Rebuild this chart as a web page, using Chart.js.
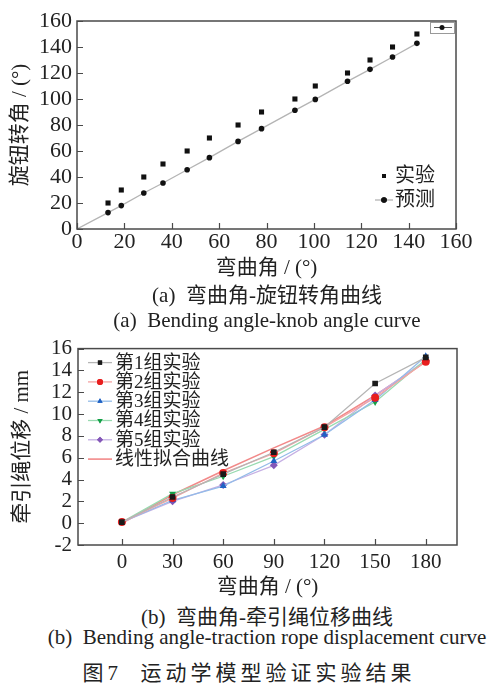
<!DOCTYPE html>
<html>
<head>
<meta charset="utf-8">
<script src="https://cdn.jsdelivr.net/npm/chart.js@4.4.1/dist/chart.umd.min.js"></script>
<style>
  body { margin: 0; background: #fff; }
  #page { position: relative; width: 491px; height: 683px; overflow: hidden; background: #fff; }
  canvas { position: absolute; left: 0; }
  .cap { position: absolute; left: 0; width: 534px; text-align: center; white-space: pre;
         font-family: 'Liberation Serif', 'Noto Sans CJK SC', serif; font-size: 21px; line-height: 24px; color: #222; }
</style>
</head>
<body>
<div id="page">
  <canvas id="knobChart" width="491" height="285" style="top:0"></canvas>
  <canvas id="ropeChart" width="491" height="275" style="top:330px"></canvas>
  <div class="cap" style="top:283px">(a)  弯曲角-旋钮转角曲线</div>
  <div class="cap" style="top:308px">(a)  Bending angle-knob angle curve</div>
  <div class="cap" style="top:605px">(b)  弯曲角-牵引绳位移曲线</div>
  <div class="cap" style="top:625px">(b)  Bending angle-traction rope displacement curve</div>
  <div class="cap" style="top:661px; width:498px; letter-spacing:4px">图7  运动学模型验证实验结果</div>
</div>
<script>
// 图(a) 弯曲角-旋钮转角
const bendAngle = [13.1, 18.7, 28.2, 36.3, 46.5, 55.9, 68, 77.9, 92, 100.6, 114.2, 123.7, 133.2, 143.5];
const knobExp = [20, 30, 40, 50, 60, 70, 80, 90, 100, 110, 120, 130, 140, 150];
const knobPred = [12.6, 18, 27.7, 35.4, 45.6, 54.9, 67.4, 77.2, 91.3, 99.7, 113.6, 122.8, 132.3, 142.8];
const knobTicks = [0, 20, 40, 60, 80, 100, 120, 140, 160];

// 图(b) 弯曲角-牵引绳位移
const angleCats = [0, 30, 60, 90, 120, 150, 180];
const group1 = [0.1, 2.4, 4.5, 6.5, 8.8, 12.8, 15.2];
const group2 = [0.1, 2.3, 4.6, 6.4, 8.8, 11.5, 14.8];
const group3 = [0.1, 2.1, 3.4, 5.7, 8.1, 11.3, 15.3];
const group4 = [0.1, 2.7, 4.3, 6.1, 8.6, 11.1, 15.0];
const group5 = [0.1, 2.0, 3.5, 5.3, 8.1, 11.7, 14.9];
const fitLine = [0.0, 2.6, 4.8, 6.9, 8.9, 11.7, 14.8];
const ropeTicks = [-2, 0, 2, 4, 6, 8, 10, 12, 14, 16];

const fontFam = "'Liberation Serif', 'Noto Sans CJK SC', serif";
const textColor = '#222';

// 边框 + 向内刻度
const frame = {
  id: 'frame',
  afterDatasetsDraw(chart) {
    const { ctx, chartArea: a, scales } = chart;
    ctx.save();
    ctx.strokeStyle = '#4a4a4a';
    ctx.lineWidth = 1.5;
    ctx.strokeRect(a.left, a.top, a.width, a.height);
    ctx.lineWidth = 1.2;
    ctx.beginPath();
    scales.x.ticks.forEach(t => {
      const px = Math.round(scales.x.getPixelForValue(t.value)) + 0.5;
      ctx.moveTo(px, a.bottom); ctx.lineTo(px, a.bottom - 6);
    });
    scales.y.ticks.forEach(t => {
      const py = Math.round(scales.y.getPixelForValue(t.value)) + 0.5;
      ctx.moveTo(a.left, py); ctx.lineTo(a.left + 6, py);
    });
    ctx.stroke();
    ctx.restore();
  }
};

// 自绘图例
const customLegend = {
  id: 'customLegend',
  afterDraw(chart, args, opts) {
    const { ctx, chartArea: a } = chart;
    const ds = chart.data.datasets;
    ctx.save();
    ctx.font = opts.size + 'px ' + fontFam;
    ctx.textBaseline = 'middle';
    const x0 = opts.right ? a.right - opts.dx : a.left + opts.dx;
    const y0 = opts.bottom ? a.bottom - opts.dy : a.top + opts.dy;
    ds.forEach((d, i) => {
      const y = y0 + i * opts.step;
      if (d.showLine !== false) {
        ctx.strokeStyle = d.borderColor;
        ctx.lineWidth = d.borderWidth;
        ctx.beginPath();
        ctx.moveTo(x0 - opts.half, y); ctx.lineTo(x0 + opts.half, y);
        ctx.stroke();
      }
      if (d.pointStyle && d.legendMarker !== false) {
        ctx.fillStyle = d.pointBackgroundColor;
        Chart.helpers.drawPoint(ctx, {
          pointStyle: d.pointStyle, radius: opts.radius, rotation: d.rotation || 0, borderWidth: 0
        }, x0, y);
        ctx.fill();
      }
      ctx.fillStyle = textColor;
      ctx.fillText(d.label, x0 + opts.textGap, y + 1);
    });
    if (opts.stub) {
      // 右上角残留的小图例框
      ctx.strokeStyle = '#999';
      ctx.lineWidth = 1;
      ctx.strokeRect(a.right - 25.5, a.top + 1.5, 24, 11);
      ctx.strokeStyle = '#555';
      ctx.beginPath();
      ctx.moveTo(a.right - 22, a.top + 6.5); ctx.lineTo(a.right - 4, a.top + 6.5);
      ctx.stroke();
      ctx.fillStyle = '#111';
      ctx.beginPath();
      ctx.arc(a.right - 14, a.top + 6.5, 2.5, 0, Math.PI * 2);
      ctx.fill();
    }
    ctx.restore();
  }
};

function axisBase(title, tickFont) {
  return {
    type: 'linear',
    grid: { display: false, drawTicks: false },
    border: { display: false },
    ticks: { color: textColor, autoSkip: false, maxRotation: 0, font: { family: fontFam, size: tickFont } },
    title: { display: true, text: title, color: textColor, font: { family: fontFam, size: 21 } }
  };
}

// 图(a)
const knobX = axisBase('弯曲角 / (°)', 22);
knobX.min = 0; knobX.max = 160;
knobX.ticks.padding = 0;
knobX.afterBuildTicks = s => { s.ticks = knobTicks.map(v => ({ value: v })); };
knobX.afterFit = s => { s.height = 56; };
knobX.title.padding = { top: 0, bottom: 4 };
const knobY = axisBase('旋钮转角 / (°)', 22);
knobY.min = 0; knobY.max = 160;
knobY.ticks.padding = 5;
knobY.afterBuildTicks = s => { s.ticks = knobTicks.map(v => ({ value: v })); };
knobY.afterFit = s => { s.width = 77; };
knobY.title.padding = { top: 8, bottom: 0 };

new Chart(document.getElementById('knobChart'), {
  type: 'scatter',
  data: {
    datasets: [{
      label: '实验',
      data: bendAngle.map((x, i) => ({ x: x, y: knobExp[i] })),
      showLine: false,
      pointStyle: 'rect',
      pointRadius: 3.6,
      pointBackgroundColor: '#111',
      pointBorderWidth: 0,
      borderColor: '#111'
    }, {
      label: '预测',
      data: [{ x: 0, y: 0 }].concat(bendAngle.map((x, i) => ({ x: x, y: knobPred[i] }))),
      showLine: true,
      borderColor: '#b4b4b4',
      borderWidth: 1.3,
      pointStyle: 'circle',
      pointRadius: [0].concat(knobPred.map(() => 2.8)),
      pointBackgroundColor: '#111',
      pointBorderWidth: 0
    }]
  },
  options: {
    responsive: false,
    animation: false,
    devicePixelRatio: 1,
    layout: { padding: { top: 21, right: 35, left: 0, bottom: 0 } },
    scales: { x: knobX, y: knobY },
    plugins: {
      legend: { display: false },
      tooltip: { enabled: false },
      customLegend: { right: true, bottom: true, dx: 72, dy: 53, step: 24, half: 9, radius: 2.8, textGap: 11, size: 20, stub: true }
    }
  },
  plugins: [frame, customLegend]
});

// 图(b)
const ropeX = axisBase('弯曲角 / (°)', 21);
ropeX.min = -26; ropeX.max = 198.5;
ropeX.ticks.padding = 5;
ropeX.afterBuildTicks = s => { s.ticks = angleCats.map(v => ({ value: v })); };
ropeX.afterFit = s => { s.height = 60; };
ropeX.title.padding = { top: 0, bottom: 5 };
const ropeY = axisBase('牵引绳位移 / mm', 21);
ropeY.min = -2; ropeY.max = 16;
ropeY.ticks.padding = 6;
ropeY.afterBuildTicks = s => { s.ticks = ropeTicks.map(v => ({ value: v })); };
ropeY.afterFit = s => { s.width = 78; };
ropeY.title.padding = { top: 10, bottom: 0 };

function groupSet(label, values, lineColor, markColor, style, rotation) {
  return {
    label: label,
    data: angleCats.map((x, i) => ({ x: x, y: values[i] })),
    showLine: true,
    borderColor: lineColor,
    borderWidth: 1.3,
    pointStyle: style,
    rotation: rotation || 0,
    pointRotation: rotation || 0,
    pointRadius: 4,
    pointBackgroundColor: markColor,
    pointBorderColor: markColor,
    pointBorderWidth: 0
  };
}

new Chart(document.getElementById('ropeChart'), {
  type: 'scatter',
  data: {
    datasets: [
      groupSet('第1组实验', group1, '#b5b5b5', '#1a1a1a', 'rect'),
      groupSet('第2组实验', group2, '#f5a3a3', '#e81e1e', 'circle'),
      groupSet('第3组实验', group3, '#94bce8', '#1f62c4', 'triangle'),
      groupSet('第4组实验', group4, '#98dab0', '#14a048', 'triangle', 180),
      groupSet('第5组实验', group5, '#c6b0e4', '#8458b8', 'rectRot'),
      {
        label: '线性拟合曲线',
        data: angleCats.map((x, i) => ({ x: x, y: fitLine[i] })),
        showLine: true,
        borderColor: '#f28a8a',
        borderWidth: 1.6,
        pointRadius: 0,
        legendMarker: false
      }
    ]
  },
  options: {
    responsive: false,
    animation: false,
    devicePixelRatio: 1,
    layout: { padding: { top: 16, right: 34, left: 0, bottom: 0 } },
    scales: { x: ropeX, y: ropeY },
    plugins: {
      legend: { display: false },
      tooltip: { enabled: false },
      customLegend: { right: false, bottom: false, dx: 22, dy: 14, step: 19.3, half: 12, radius: 3, textGap: 15, size: 19 }
    }
  },
  plugins: [frame, customLegend]
});
</script>
</body>
</html>
